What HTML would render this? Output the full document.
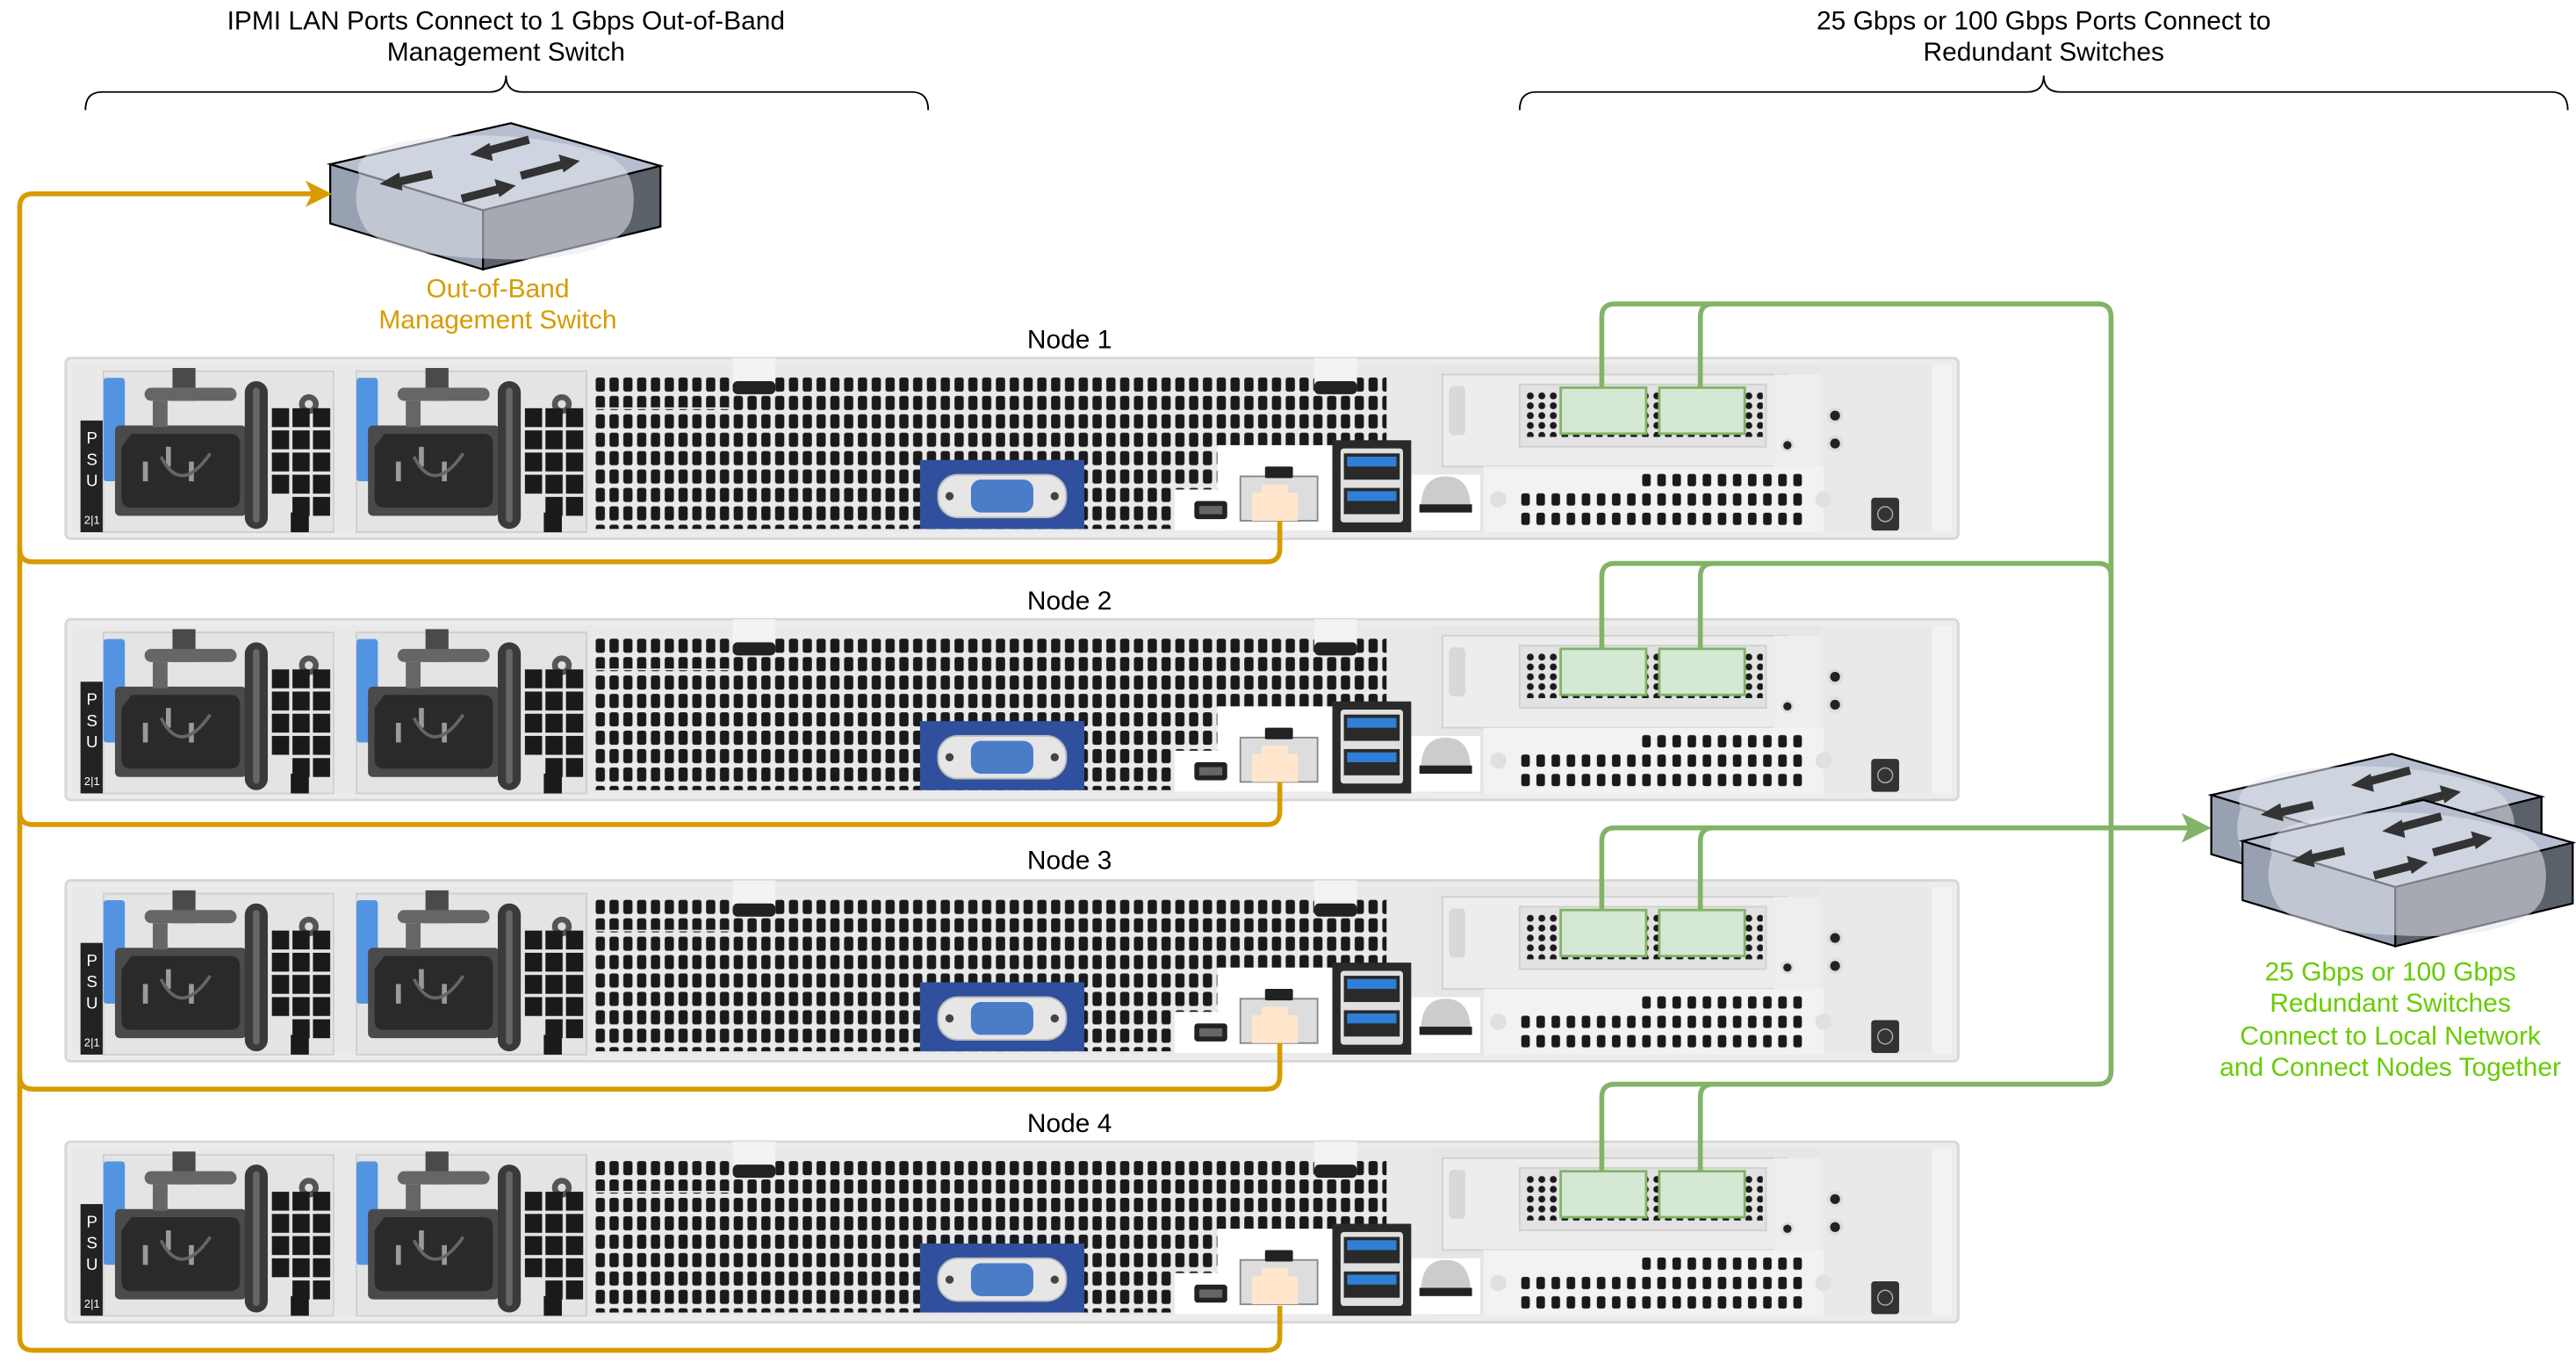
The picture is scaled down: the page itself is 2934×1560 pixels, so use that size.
<!DOCTYPE html>
<html><head><meta charset="utf-8"><style>html,body{margin:0;padding:0;background:#fff;}svg{display:block}</style></head>
<body>
<svg width="2934" height="1560" viewBox="0 0 1568 834" preserveAspectRatio="none" xmlns="http://www.w3.org/2000/svg" font-family="Liberation Sans, sans-serif">
<defs>
<pattern id="vent" x="362" y="229" width="8.4" height="11.2" patternUnits="userSpaceOnUse"><rect x="0.6" y="0.8" width="5.6" height="8.6" rx="1.4" fill="#1a1a1a"/></pattern>
<pattern id="vent2" x="925" y="287" width="9.2" height="11.8" patternUnits="userSpaceOnUse"><rect x="1" y="1.5" width="5.2" height="7.5" rx="1.4" fill="#1a1a1a"/></pattern>
<pattern id="grid" x="165" y="248" width="12.5" height="13.5" patternUnits="userSpaceOnUse"><rect x="0.5" y="0.5" width="10.5" height="11.5" fill="#1a1a1a"/></pattern>
<pattern id="dots" x="928" y="238" width="7" height="6" patternUnits="userSpaceOnUse"><circle cx="3.5" cy="3" r="2.1" fill="#1a1a1a"/></pattern>
<g id="psu">
  <rect x="63" y="226" width="140" height="98" fill="#e4e4e4" stroke="#cfcfcf"/>
  <rect x="66" y="231" width="8" height="60" fill="#111"/>
  <rect x="63" y="230" width="13" height="63" rx="2" fill="#5294e2"/>
  <rect x="70" y="259" width="80" height="55" rx="3" fill="#4a4a4a"/>
  <path d="M80 264 H140 Q146 264 146 270 V303 Q146 309 140 309 H80 Q74 309 74 303 V272 Z" fill="#2a2a2a"/>
  <rect x="87" y="281" width="3" height="12" fill="#9a9a9a"/><rect x="101" y="272" width="3" height="12" fill="#9a9a9a"/><rect x="115" y="281" width="3" height="12" fill="#9a9a9a"/>
  <path d="M98 278 Q110 302 128 276" stroke="#666" stroke-width="2" fill="none"/>
  <rect x="105" y="224" width="14" height="20" fill="#4a4a4a"/>
  <rect x="88" y="236" width="56" height="8" rx="4" fill="#666"/>
  <rect x="93" y="244" width="9" height="16" fill="#666"/>
  <rect x="149" y="232" width="14" height="90" rx="7" fill="#3a3a3a"/>
  <rect x="154" y="236" width="4" height="82" rx="2" fill="#666"/>
  <circle cx="188" cy="246" r="6" fill="#555"/><circle cx="188" cy="246" r="2.5" fill="#ddd"/>
  <rect x="165" y="248" width="37" height="54" fill="url(#grid)"/>
  <rect x="177" y="302" width="24" height="13" fill="url(#grid)"/>
  <rect x="177" y="312" width="11" height="12" fill="#1a1a1a"/>
</g>
<g id="sw">
  <polygon points="0,0 110,-25 201,1 93,28" fill="#b7bed0" stroke="#000" stroke-width="1.2"/>
  <polygon points="0,0 93,28 93,64 0,36" fill="#98a1b2" stroke="#000" stroke-width="1.2"/>
  <polygon points="93,28 201,1 201,38 93,64" fill="#5b6168" stroke="#000" stroke-width="1.2"/>
  <path d="M18 8 Q10 -10 60 -16 Q120 -22 170 -5 Q188 5 184 30 Q180 55 120 58 Q40 58 22 40 Q12 25 18 8 Z" fill="#e3e6ee" opacity="0.55"/>
  <g stroke="#333" stroke-width="5" fill="#333">
    <line x1="62" y1="6" x2="40" y2="11"/><polygon points="30,12 42,5 44,16" stroke="none"/>
    <line x1="121" y1="-15" x2="95" y2="-8"/><polygon points="85,-6 97,-13 99,-2" stroke="none"/>
    <line x1="80" y1="21" x2="103" y2="15"/><polygon points="113,13 100,9 103,20" stroke="none"/>
    <line x1="116" y1="7" x2="142" y2="0"/><polygon points="152,-2 139,-6 142,5" stroke="none"/>
  </g>
</g>
<g id="node">
  <rect x="40" y="218" width="1152" height="110" rx="3" fill="#ececec" stroke="#d6d6d6" stroke-width="1.5"/>
  <rect x="44" y="222" width="1144" height="102" fill="#e9e9e9"/>
  <rect x="49" y="256" width="14" height="68" fill="#222"/>
  <use href="#psu"/>
  <use href="#psu" transform="translate(154,0)"/>
  <rect x="360" y="227" width="508" height="97" fill="#e9e9e9"/>
  <rect x="362" y="229" width="482" height="93" fill="url(#vent)"/>
  <rect x="362" y="229" width="82" height="20" fill="#e9e9e9"/>
  <rect x="362" y="229" width="82" height="19" fill="url(#vent)"/>
  <rect x="446" y="218" width="26" height="22" fill="#f3f3f3"/>
  <rect x="446" y="232" width="26" height="8" rx="3" fill="#222"/>
  <rect x="800" y="218" width="26" height="22" fill="#f3f3f3"/>
  <rect x="800" y="232" width="26" height="8" rx="3" fill="#222"/>
  <rect x="830" y="275" width="40" height="48" fill="#e9e9e9"/>
  <rect x="560" y="280" width="100" height="42" fill="#30509e"/>
  <rect x="571" y="289" width="78" height="26" rx="12" fill="#e6e6e6" stroke="#bbb"/>
  <rect x="591" y="292" width="38" height="20" rx="6" fill="#4a7cc8"/>
  <circle cx="578" cy="302" r="2.5" fill="#444"/><circle cx="642" cy="302" r="2.5" fill="#444"/>
  <rect x="872" y="222" width="236" height="102" fill="#e6e6e6"/>
  <rect x="878" y="228" width="210" height="56" fill="#ededed" stroke="#d0d0d0"/>
  <rect x="882" y="235" width="10" height="30" rx="3" fill="#d8d8d8"/>
  <rect x="925" y="234" width="150" height="38" fill="#e2e2e2" stroke="#d0d0d0"/>
  <rect x="928" y="238" width="145" height="28" fill="url(#dots)"/>
  <rect x="950" y="236" width="52" height="28" fill="#d5e8d4" stroke="#82b366" stroke-width="1.5"/>
  <rect x="1010" y="236" width="52" height="28" fill="#d5e8d4" stroke="#82b366" stroke-width="1.5"/>
  <rect x="1080" y="228" width="28" height="58" fill="#eeeeee"/>
  <circle cx="1088" cy="271" r="4" fill="#ddd"/><circle cx="1088" cy="271" r="2.5" fill="#222"/>
  <rect x="903" y="284" width="207" height="40" fill="#f2f2f2"/>
  <rect x="925" y="287" width="172" height="35" fill="url(#vent2)"/>
  <rect x="925" y="287" width="72" height="10" fill="#f2f2f2"/>
  <circle cx="912" cy="304" r="5" fill="#e0e0e0"/><circle cx="1110" cy="304" r="5" fill="#e0e0e0"/>
  <circle cx="1117" cy="253" r="5" fill="#ddd"/><circle cx="1117" cy="253" r="3" fill="#222"/>
  <circle cx="1117" cy="270" r="5" fill="#ddd"/><circle cx="1117" cy="270" r="3" fill="#222"/>
  <rect x="1139" y="303" width="17" height="20" rx="2" fill="#333"/>
  <circle cx="1147.5" cy="313" r="4.5" fill="none" stroke="#aaa" stroke-width="0.8"/>
  <rect x="1176" y="222" width="12" height="102" fill="#f2f2f2"/>
  <rect x="715" y="298" width="30" height="25" fill="#fff"/>
  <rect x="741" y="271" width="70" height="52" fill="#fff"/>
  <rect x="859" y="289" width="42" height="34" fill="#fff"/>
  <rect x="727" y="305" width="20" height="11" rx="2" fill="#222"/><rect x="730" y="308" width="14" height="5" fill="#666"/>
  <rect x="755" y="290" width="47" height="27" fill="#ddd" stroke="#888"/>
  <rect x="770" y="284" width="17" height="7" rx="1" fill="#222"/>
  <path d="M762 300 h6 v-5 h16 v5 h6 v17 h-28 z" fill="#ffe6cc"/>
  <rect x="811" y="268" width="48" height="56" fill="#2a2a2a"/>
  <rect x="816" y="273" width="38" height="45" rx="2" fill="#e0e0e0"/>
  <rect x="818" y="276" width="34" height="16" fill="#2a2a2a"/><rect x="820" y="278" width="30" height="6" fill="#2f7fd6"/>
  <rect x="818" y="297" width="34" height="16" fill="#2a2a2a"/><rect x="820" y="299" width="30" height="6" fill="#2f7fd6"/>
  <path d="M865 307 Q866 290 880 290 Q894 290 895 307 Z" fill="#ccc"/>
  <rect x="864" y="307" width="32" height="5" fill="#222"/>
</g>
</defs>

<text x="308" y="18" font-size="16" text-anchor="middle" fill="#000">IPMI LAN Ports Connect to 1 Gbps Out-of-Band</text>
<text x="308" y="37" font-size="16" text-anchor="middle" fill="#000">Management Switch</text>
<text x="1244" y="18" font-size="16" text-anchor="middle" fill="#000">25 Gbps or 100 Gbps Ports Connect to</text>
<text x="1244" y="37" font-size="16" text-anchor="middle" fill="#000">Redundant Switches</text>
<path d="M52 67 Q52 56 62 56 H298 Q308 56 308 46 Q308 56 318 56 H555 Q565 56 565 67" fill="none" stroke="#000" stroke-width="1"/>
<path d="M925 67 Q925 56 935 56 H1234 Q1244 56 1244 46 Q1244 56 1254 56 H1553 Q1563 56 1563 67" fill="none" stroke="#000" stroke-width="1"/>

<use href="#sw" transform="translate(201,100)"/>
<text x="303" y="181" font-size="16" text-anchor="middle" fill="#d79b00">Out-of-Band</text>
<text x="303" y="200" font-size="16" text-anchor="middle" fill="#d79b00">Management Switch</text>

<use href="#node"/>
<use href="#node" transform="translate(0,159)"/>
<use href="#node" transform="translate(0,318)"/>
<use href="#node" transform="translate(0,477)"/>
<text x="651" y="212" font-size="16" text-anchor="middle">Node 1</text>
<text x="651" y="371" font-size="16" text-anchor="middle">Node 2</text>
<text x="651" y="529" font-size="16" text-anchor="middle">Node 3</text>
<text x="651" y="689" font-size="16" text-anchor="middle">Node 4</text>
<g fill="#fff" font-size="10" text-anchor="middle">
<text x="56" y="270">P</text><text x="56" y="283">S</text><text x="56" y="296">U</text><text x="56" y="319" font-size="7">2|1</text>
<text x="56" y="429">P</text><text x="56" y="442">S</text><text x="56" y="455">U</text><text x="56" y="478" font-size="7">2|1</text>
<text x="56" y="588">P</text><text x="56" y="601">S</text><text x="56" y="614">U</text><text x="56" y="637" font-size="7">2|1</text>
<text x="56" y="747">P</text><text x="56" y="760">S</text><text x="56" y="773">U</text><text x="56" y="796" font-size="7">2|1</text>
</g>

<g fill="none" stroke="#d79b00" stroke-width="3">
<path d="M192 118 H20 Q12 118 12 126 V814 Q12 822 20 822 H771 Q779 822 779 814 V795"/>
<path d="M12 334 Q12 342 20 342 H771 Q779 342 779 334 V317"/>
<path d="M12 494 Q12 502 20 502 H771 Q779 502 779 494 V476"/>
<path d="M12 655 Q12 663 20 663 H771 Q779 663 779 655 V635"/>
</g>
<polygon points="186,110 202,118 186,126 190,118" fill="#d79b00"/>

<g fill="none" stroke="#82b366" stroke-width="3">
<path d="M975 236 V193 Q975 185 983 185 H1277 Q1285 185 1285 193 V652 Q1285 660 1277 660 H983 Q975 660 975 668 V713"/>
<path d="M1035 236 V193 Q1035 185 1043 185"/>
<path d="M975 395 V351 Q975 343 983 343 H1277 Q1285 343 1285 351"/>
<path d="M1035 395 V351 Q1035 343 1043 343"/>
<path d="M975 554 V512 Q975 504 983 504 H1334"/>
<path d="M1035 554 V512 Q1035 504 1043 504"/>
<path d="M1035 713 V668 Q1035 660 1043 660"/>
</g>
<polygon points="1328,495 1346,504 1328,513 1332,504" fill="#82b366"/>

<use href="#sw" transform="translate(1346,484)"/>
<use href="#sw" transform="translate(1365,512)"/>
<g fill="#66cc00" font-size="16" text-anchor="middle">
<text x="1455" y="597">25 Gbps or 100 Gbps</text>
<text x="1455" y="616">Redundant Switches</text>
<text x="1455" y="636">Connect to Local Network</text>
<text x="1455" y="655">and Connect Nodes Together</text>
</g>
</svg>
</body></html>
